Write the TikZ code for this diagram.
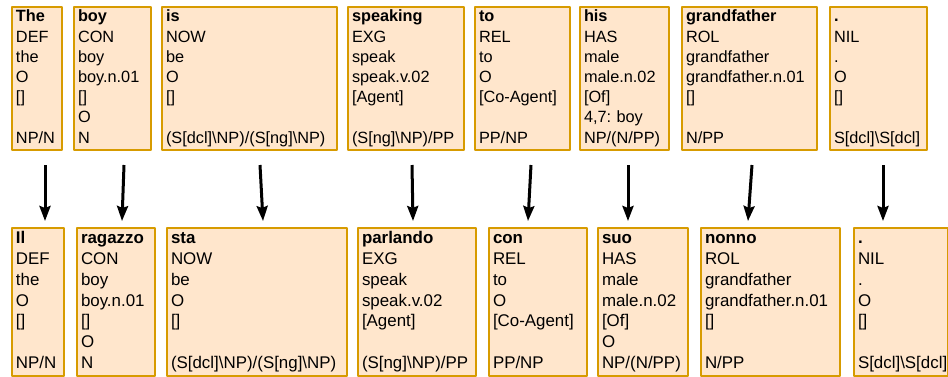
\documentclass[tikz,border=0pt]{standalone}
\usepackage{fontspec}
\setmainfont{Liberation Sans}
\usepackage{xcolor}
\usetikzlibrary{arrows.meta}
\definecolor{boxfill}{HTML}{FFE6CC}
\definecolor{boxline}{HTML}{D79B00}
\tikzset{
  wbox/.style={draw=boxline,fill=boxfill,line width=2pt,anchor=north west,
    inner xsep=4pt,inner ysep=0pt,align=left},
  toprow/.style={wbox,minimum height=143pt,font=\fontsize{16.3}{20.2}\selectfont},
  botrow/.style={wbox,minimum height=148pt,font=\fontsize{16.9}{20.8}\selectfont},
  maparrow/.style={line width=3pt,line cap=butt,-{Stealth[length=15pt,width=11pt,inset=2pt]}}
}
\newcommand{\bsl}{\textbackslash}
\frenchspacing
\begin{document}
\begin{tikzpicture}[line cap=round,line join=round,x=1pt,y=-1pt]

\useasboundingbox (0,0) rectangle (948,376);

% English tokens
\node[toprow,text width=42pt] (the) at (11,6) {\strut\textbf{The}\\DEF\\the\\O\\{[]}\\\strut\\NP/N\strut};
\node[toprow,text width=69pt] (boy) at (73,6) {\strut\textbf{boy}\\CON\\boy\\boy.n.01\\{[]}\\O\\N\strut};
\node[toprow,text width=167pt] (is) at (161,6) {\strut\textbf{is}\\NOW\\be\\O\\{[]}\\\strut\\(S[dcl]\bsl NP)/(S[ng]\bsl NP)\strut};
\node[toprow,text width=108pt] (speaking) at (347,6) {\strut\textbf{speaking}\\EXG\\speak\\speak.v.02\\{[Agent]}\\\strut\\(S[ng]\bsl NP)/PP\strut};
\node[toprow,text width=87pt] (to) at (474,6) {\strut\textbf{to}\\REL\\to\\O\\{[Co-Agent]}\\\strut\\PP/NP\strut};
\node[toprow,text width=81pt] (his) at (579,6) {\strut\textbf{his}\\HAS\\male\\male.n.02\\{[Of]}\\4,7: boy\\NP/(N/PP)\strut};
\node[toprow,text width=127pt] (grandfather) at (681,6) {\strut\textbf{grandfather}\\ROL\\grandfather\\grandfather.n.01\\{[]}\\\strut\\N/PP\strut};
\node[toprow,text width=89pt] (dot) at (829,6) {\strut\textbf{.}\\NIL\\.\\O\\{[]}\\\strut\\S[dcl]\bsl S[dcl]\strut};

% Italian tokens
\node[botrow,text width=44pt] (il) at (11,227) {\strut\textbf{Il}\\DEF\\the\\O\\{[]}\\\strut\\NP/N\strut};
\node[botrow,text width=70pt] (ragazzo) at (76,227) {\strut\textbf{ragazzo}\\CON\\boy\\boy.n.01\\{[]}\\O\\N\strut};
\node[botrow,text width=172pt] (sta) at (166,227) {\strut\textbf{sta}\\NOW\\be\\O\\{[]}\\\strut\\(S[dcl]\bsl NP)/(S[ng]\bsl NP)\strut};
\node[botrow,text width=110pt] (parlando) at (357,227) {\strut\textbf{parlando}\\EXG\\speak\\speak.v.02\\{[Agent]}\\\strut\\(S[ng]\bsl NP)/PP\strut};
\node[botrow,text width=90pt] (con) at (488,227) {\strut\textbf{con}\\REL\\to\\O\\{[Co-Agent]}\\\strut\\PP/NP\strut};
\node[botrow,text width=82pt] (suo) at (597,227) {\strut\textbf{suo}\\HAS\\male\\male.n.02\\{[Of]}\\O\\NP/(N/PP)\strut};
\node[botrow,text width=131pt] (nonno) at (700,227) {\strut\textbf{nonno}\\ROL\\grandfather\\grandfather.n.01\\{[]}\\\strut\\N/PP\strut};
\node[botrow,text width=86pt] (dotit) at (853,227) {\strut\textbf{.}\\NIL\\.\\O\\{[]}\\\strut\\S[dcl]\bsl S[dcl]\strut};

% alignment arrows
\draw[maparrow] ([xshift=8pt,yshift=-14pt]the.south) -- ([xshift=7pt,yshift=6pt]il.north);
\draw[maparrow] ([xshift=11.5pt,yshift=-14pt]boy.south) -- ([xshift=6pt,yshift=6pt]ragazzo.north);
\draw[maparrow] ([xshift=10.5pt,yshift=-14pt]is.south) -- ([xshift=6pt,yshift=6pt]sta.north);
\draw[maparrow] ([xshift=6pt,yshift=-14pt]speaking.south) -- ([xshift=-4pt,yshift=6pt]parlando.north);
\draw[maparrow] ([xshift=8.5pt,yshift=-14pt]to.south) -- ([xshift=-10pt,yshift=6pt]con.north);
\draw[maparrow] ([xshift=3.5pt,yshift=-14pt]his.south) -- ([xshift=-15pt,yshift=6pt]suo.north);
\draw[maparrow] ([xshift=2.5pt,yshift=-14pt]grandfather.south) -- ([xshift=-22.5pt,yshift=6pt]nonno.north);
\draw[maparrow] ([xshift=4.5pt,yshift=-14pt]dot.south) -- ([xshift=-18pt,yshift=6pt]dotit.north);
\end{tikzpicture}
\end{document}
